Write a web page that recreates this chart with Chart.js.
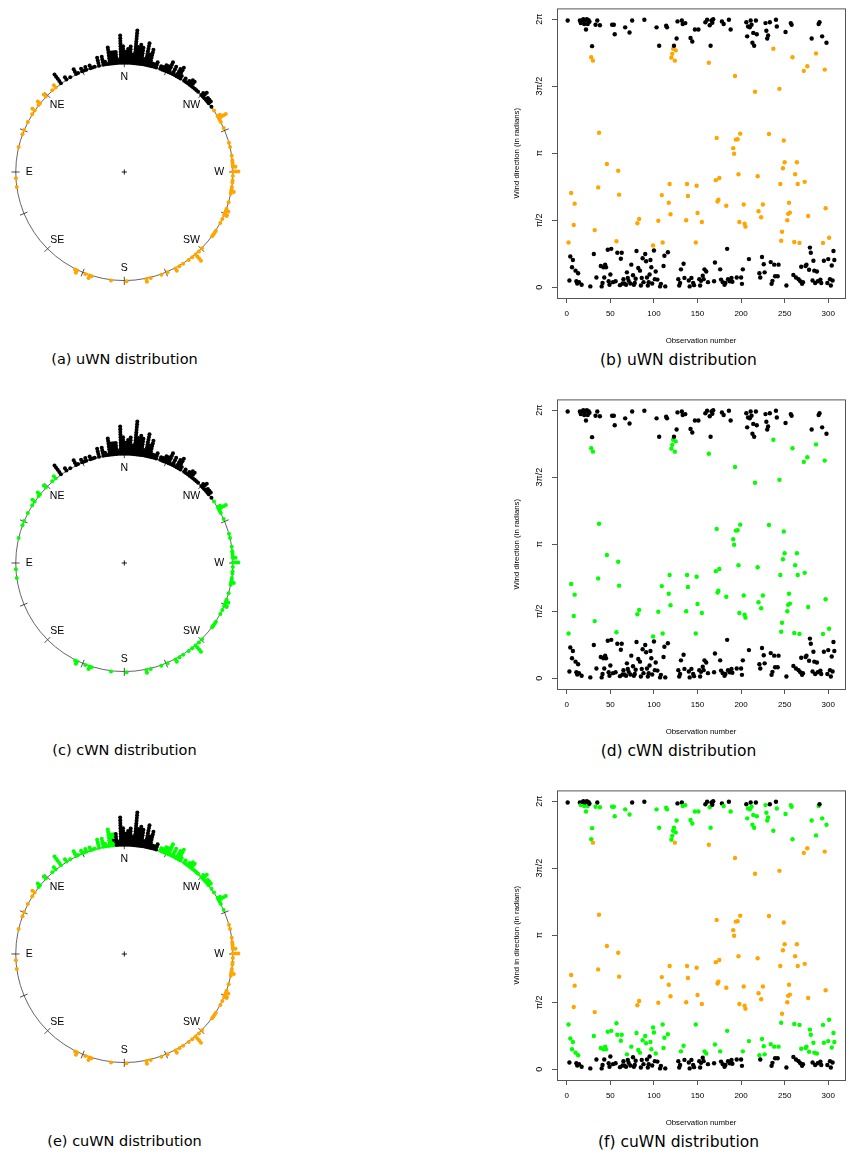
<!DOCTYPE html>
<html><head><meta charset="utf-8">
<script src="https://cdn.jsdelivr.net/npm/chart.js@4.4.1/dist/chart.umd.min.js"></script>
<style>
html,body{margin:0;padding:0;background:#fff;}
#fig{position:relative;width:855px;height:1157px;overflow:hidden;background:#fff;}
canvas{position:absolute;}
.cap{position:absolute;font-family:"DejaVu Sans";color:#000;white-space:nowrap;transform:translate(-50%,-50%);}
</style></head><body><div id="fig"></div>
<script>
// Wind direction (radians) per observation
const direction = [
6.25,1.05,0.16,0.72,2.21,0.47,0.64,1.46,1.96,0.39,0.14,0.09,0.33,0.12,6.25,6.19,0.06,6.26,6.28,6.17,
6.25,6.04,6.28,6.17,6.26,6.22,0.02,5.39,5.65,5.31,0.78,1.34,6.15,0.23,6.25,2.34,3.62,6.14,0.50,0.02,
0.10,0.47,0.23,0.53,0.47,2.89,0.88,0.14,0.06,0.30,0.90,6.15,0.12,6.15,5.93,0.14,1.08,0.81,2.73,2.17,
0.05,0.67,0.81,0.09,0.19,0.09,6.09,0.06,0.35,0.22,0.15,5.97,0.09,0.53,6.25,0.28,0.06,0.10,0.20,0.85,
1.50,0.45,1.60,0.39,0.04,0.22,0.68,0.12,6.27,0.78,0.61,0.23,0.04,0.12,0.30,0.64,0.47,0.09,0.98,0.86,
0.19,
0.37,6.09,0.18,1.56,5.66,0.02,0.08,2.16,1.05,0.50,0.74,0.02,6.13,6.09,0.82,1.98,2.42,1.71,5.38,5.47,
5.59,5.66,5.31,5.55,5.83,6.23,0.19,0.04,0.10,0.42,6.25,6.17,0.55,0.22,6.19,1.57,2.42,2.14,0.16,0.02,
5.84,0.22,5.76,0.10,0.05,6.04,1.05,2.38,1.74,6.04,0.19,0.04,0.15,1.53,0.27,0.19,0.42,6.21,0.37,6.27,
0.12,5.26,6.14,5.66,6.25,6.20,6.28,0.14,0.58,2.51,3.50,2.01,2.05,2.56,0.42,0.18,6.23,0.12,6.17,0.06,
0.10,1.91,0.90,0.19,6.27,0.14,6.04,0.22,0.13,3.26,3.13,4.95,3.46,0.23,3.47,2.65,1.53,3.60,0.23,0.08,
0.42,1.94,1.49,1.42,6.21,5.88,6.11,0.66,
6.09,6.25,6.15,5.73,5.96,5.66,4.58,6.25,5.93,2.60,1.78,0.33,0.23,1.64,0.71,1.94,0.54,0.35,6.19,6.01,
5.83,5.90,3.59,6.21,0.59,0.08,0.15,5.59,0.53,0.26,6.27,6.11,0.26,0.53,4.65,2.42,1.09,1.30,2.79,3.44,
2.93,5.98,0.04,1.57,1.72,1.98,1.75,6.19,6.15,5.39,0.29,1.06,2.65,0.23,2.93,2.42,0.19,1.04,0.14,0.48,
0.08,0.12,5.07,2.47,0.50,0.53,5.18,1.67,0.41,0.93,0.81,5.83,0.16,0.62,0.39,0.10,5.48,0.37,0.14,6.17,
6.21,0.18,0.10,5.88,1.04,0.62,5.10,1.85,5.73,0.10,0.66,1.16,0.19,0.04,0.51,0.16,0.85,0.64
];
const xTickValues = [0,50,100,150,200,250,300];
const yTickValues = [0, Math.PI/2, Math.PI, 3*Math.PI/2, 2*Math.PI];
const yTickLabels = ['0','π/2','π','3π/2','2π'];
const compassLabels = ['N','NW','W','SW','S','SE','E','NE'];
const captionsLeft = ['(a) uWN distribution','(c) cWN distribution','(e) cuWN distribution'];
const captionsRight = ['(b) uWN distribution','(d) cWN distribution','(f) cuWN distribution'];
const yTitles = ['Wind direction (in radians)','Wind direction (in radians)','Wind in direction (in radians)'];
const xTitle = 'Observation number';

const ORANGE = '#FFA500', GREEN = '#00FF00', BLACK = '#000000';
// classification of each direction for the three models
const schemes = [
  v => (v <= 0.95 || v >= 5.62) ? BLACK : ORANGE,
  v => (v <= 0.95 || v >= 5.62) ? BLACK : GREEN,
  v => (v >= 6.2 || v <= 0.3) ? BLACK : ((v <= 1.2 || v >= 5.35) ? GREEN : ORANGE)
];

const fig = document.getElementById('fig');
const PANEL_DY = 391;
const CX = 124.3, CY = 172.3, RPX = 113;
const SEP = 0.025;
const n = direction.length;

function mkCanvas(left, top, w, h){
  const c = document.createElement('canvas');
  c.width = w; c.height = h;
  c.style.left = left + 'px'; c.style.top = top + 'px';
  c.style.width = w + 'px'; c.style.height = h + 'px';
  fig.appendChild(c);
  return c;
}
function mkCap(text, x, y, size){
  const d = document.createElement('div');
  d.className = 'cap'; d.textContent = text;
  d.style.left = x + 'px'; d.style.top = y + 'px'; d.style.fontSize = size + 'px';
  fig.appendChild(d);
}

const circlePlugin = {
  id: 'circ',
  beforeDatasetsDraw(chart){
    const {ctx, scales:{x, y}} = chart;
    const cx = x.getPixelForValue(0), cy = y.getPixelForValue(0);
    const R = x.getPixelForValue(1) - cx;
    ctx.save();
    ctx.strokeStyle = '#555'; ctx.lineWidth = 0.9;
    ctx.beginPath(); ctx.arc(cx, cy, R, 0, 2*Math.PI); ctx.stroke();
    ctx.strokeStyle = '#222'; ctx.lineWidth = 0.8;
    ctx.beginPath();
    for (let i = 0; i < 16; i++){
      const a = i*Math.PI/8, s = Math.sin(a), c = Math.cos(a);
      ctx.moveTo(cx + R*0.965*s, cy - R*0.965*c);
      ctx.lineTo(cx + R*1.04*s, cy - R*1.04*c);
    }
    ctx.stroke();
    ctx.fillStyle = '#000';
    ctx.font = '10.5px "Liberation Sans"';
    ctx.textAlign = 'center'; ctx.textBaseline = 'middle';
    compassLabels.forEach((lab, i) => {
      const a = i*Math.PI/4;
      ctx.fillText(lab, x.getPixelForValue(0.875*Math.sin(a)), y.getPixelForValue(0.875*Math.cos(a)) + 0.5);
    });
    ctx.restore();
  }
};

function stackPoints(vals, colorFn){
  const bins = vals.length, arc = 2*Math.PI/bins;
  const counts = new Array(bins).fill(0);
  return vals.map(v => {
    const b = Math.floor(v/arc) % bins;
    const k = counts[b]++;
    const a = (b + 0.5)*arc, r = 1 + k*SEP;
    return {x: r*Math.sin(a), y: r*Math.cos(a), c: colorFn(v)};
  });
}

const boxPlugin = {
  id: 'box',
  afterDatasetsDraw(chart){
    const {ctx, chartArea:a} = chart;
    ctx.save(); ctx.strokeStyle = '#555'; ctx.lineWidth = 1;
    ctx.strokeRect(a.left + 0.5, a.top + 0.5, a.right - a.left, a.bottom - a.top);
    ctx.restore();
  }
};

const CW = 250, CH = 300;
const SW = 355, SH = 346, SL = 500;
const AREA_LEFT = 57, AREA_TOP = 8, AREA_RIGHT = 845, AREA_BOTTOM = 298;

for (let p = 0; p < 3; p++){
  const dy = p*PANEL_DY;
  const colorFn = schemes[p];
  // circular plot
  const cTop = CY - CH/2 + dy;
  const cc = mkCanvas(0, cTop, CW, CH);
  const pts = stackPoints(direction, colorFn);
  new Chart(cc, {
    type: 'scatter',
    data: {datasets: [
      {data: pts, pointRadius: 2, pointHoverRadius: 2, borderWidth: 0,
       backgroundColor: ctx => ctx.raw ? ctx.raw.c : BLACK},
      {data: [{x:0, y:0}], pointStyle: 'cross', pointRadius: 2.6, borderWidth: 0.9,
       borderColor: '#000', backgroundColor: '#000'}
    ]},
    options: {
      responsive: false, animation: false, events: [],
      layout: {padding: 0},
      plugins: {legend: {display: false}, tooltip: {enabled: false}},
      scales: {
        x: {type: 'linear', display: false, min: -CX/RPX, max: (CW - CX)/RPX},
        y: {type: 'linear', display: false, min: -(CH/2)/RPX, max: (CH/2)/RPX}
      }
    },
    plugins: [circlePlugin]
  });
  mkCap(captionsLeft[p], 124.5, 359 + dy, 14.5);

  // scatter plot
  const sc = mkCanvas(SL, dy, SW, SH);
  const xMin = 1 - 0.04*(n - 1), xMax = n + 0.04*(n - 1);
  const yMin = -0.04*2*Math.PI, yMax = 2*Math.PI*1.04;
  new Chart(sc, {
    type: 'scatter',
    data: {datasets: [{
      data: direction.map((v, i) => ({x: i + 1, y: v})),
      pointRadius: 2.2, pointHoverRadius: 2.2, borderWidth: 0,
      backgroundColor: ctx => ctx.raw ? colorFn(ctx.raw.y) : BLACK
    }]},
    options: {
      responsive: false, animation: false, events: [],
      layout: {padding: {left: 0, right: SL + SW - AREA_RIGHT, top: AREA_TOP, bottom: 0}},
      plugins: {legend: {display: false}, tooltip: {enabled: false}},
      scales: {
        x: {
          type: 'linear', min: xMin, max: xMax,
          afterBuildTicks: s => { s.ticks = xTickValues.map(v => ({value: v})); },
          afterFit: s => { s.height = SH - AREA_BOTTOM; },
          grid: {drawOnChartArea: false, drawTicks: true, tickLength: 5, color: '#555'},
          border: {display: false},
          ticks: {font: {family: 'Liberation Sans', size: 8}, color: '#000', padding: 6, maxRotation: 0, minRotation: 0, autoSkip: false},
          title: {display: true, text: xTitle, color: '#000', font: {family: 'Liberation Sans', size: 7.8}, padding: {top: 0, bottom: 0}}
        },
        y: {
          type: 'linear', min: yMin, max: yMax,
          afterBuildTicks: s => { s.ticks = yTickValues.map(v => ({value: v})); },
          afterFit: s => { s.width = AREA_LEFT; },
          grid: {drawOnChartArea: false, drawTicks: true, tickLength: 5, color: '#555'},
          border: {display: false},
          ticks: {font: {family: 'Liberation Sans', size: 9}, color: '#000', padding: 3, minRotation: 90, maxRotation: 90,
                  crossAlign: 'center', autoSkip: false,
                  callback: (v, i) => yTickLabels[i]},
          title: {display: true, text: yTitles[p], color: '#000', font: {family: 'Liberation Sans', size: 7.8}, padding: {top: 12, bottom: 0}}
        }
      }
    },
    plugins: [boxPlugin]
  });
  mkCap(captionsRight[p], 678.5, 360 + dy, 15.5);
}
</script></body></html>
